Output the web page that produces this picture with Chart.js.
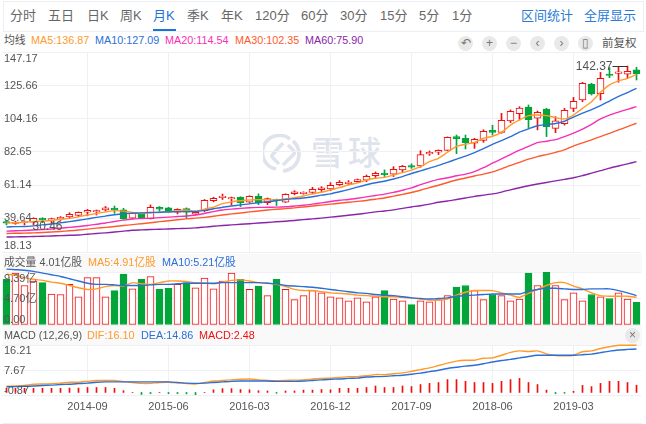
<!DOCTYPE html>
<html>
<head>
<meta charset="utf-8">
<script src="https://cdn.jsdelivr.net/npm/chart.js@4/dist/chart.umd.min.js"></script>
<style>
  html, body { margin: 0; padding: 0; background: #fff; }
  body { width: 646px; height: 424px; position: relative; overflow: hidden; font-family: "Liberation Sans", "Noto Sans CJK SC", sans-serif; }
  canvas, .t, .box, svg { position: absolute; }
  .t { white-space: nowrap; line-height: 16px; height: 16px; }
  .tab { font-size: 13px; top: 8px; color: #666; }
  .btn { width: 15px; height: 15px; border-radius: 8px; background: #e9e9e9; top: 36px; color: #777; font-size: 12px; line-height: 15px; text-align: center; }
</style>
</head>
<body>
<div class="box" style="left:3px;top:1px;width:639px;height:29px;border:1px solid #eceef3;box-sizing:content-box"></div>
<div class="box" style="left:153px;top:29px;width:23px;height:2px;background:#1a73d8"></div>
<div class="box" style="left:3px;top:254px;width:639px;height:18px;background:#f9f9fa"></div>
<div class="box" style="left:3px;top:326px;width:639px;height:19px;background:#f9f9fa"></div>
<div class="box" style="left:3px;top:423px;width:639px;height:1px;background:#eceef3"></div>

<svg style="left:263px;top:134px" width="40" height="40" viewBox="0 0 40 40" fill="none" stroke="#dfe4ec" stroke-width="3.6">
  <path d="M27 5 A17 17 0 1 0 13 35"/>
  <path d="M13 35 L13 35 M30 7 A17 17 0 0 1 20 37"/>
  <path d="M20 9 L10 20 Q8 22 10 24 L16 30"/>
  <path d="M20 31 L31 20 Q32 18 30 16 L25 11"/>
</svg>
<div class="t" style="left:311px;top:146px;font-size:33px;letter-spacing:4px;font-weight:500;color:#dfe4ec">雪球</div>

<canvas id="main-chart" width="646" height="202" style="left:0;top:51px"></canvas>
<canvas id="volume-chart" width="646" height="60" style="left:0;top:266px"></canvas>
<canvas id="macd-chart" width="646" height="80" style="left:0;top:340px"></canvas>

<div id="labels"></div>

<script>
const months = [
  '2013-12','2014-01','2014-02','2014-03','2014-04','2014-05','2014-06','2014-07','2014-08','2014-09','2014-10','2014-11',
  '2014-12','2015-01','2015-02','2015-03','2015-04','2015-05','2015-06','2015-07','2015-08','2015-09','2015-10','2015-11',
  '2015-12','2016-01','2016-02','2016-03','2016-04','2016-05','2016-06','2016-07','2016-08','2016-09','2016-10','2016-11',
  '2016-12','2017-01','2017-02','2017-03','2017-04','2017-05','2017-06','2017-07','2017-08','2017-09','2017-10','2017-11',
  '2017-12','2018-01','2018-02','2018-03','2018-04','2018-05','2018-06','2018-07','2018-08','2018-09','2018-10','2018-11',
  '2018-12','2019-01','2019-02','2019-03','2019-04','2019-05','2019-06','2019-07','2019-08','2019-09','2019-10'
];
const xTickLabels = ['2014-09','2015-06','2016-03','2016-12','2017-09','2018-06','2019-03'];

const opens = [37.7,36.5,37.1,37.3,39.9,38.6,39.5,40.7,41.8,43.75,44,45.3,46.3,45.3,39.9,43.1,39.7,47,46.6,43.75,46.1,42.5,44.8,51.3,53.2,
  52.4,53.4,50.2,54.1,50,52.1,50.2,55.8,55.8,56.5,58.4,58.8,61.6,62.2,63.5,64.4,67.4,68.9,68.3,71.1,73.9,73.6,81.4,
  82.5,83.7,92.6,91.5,88.3,90.2,96.6,95.3,102.7,107.4,111.7,104.4,110.4,97.9,100.9,110.8,116.2,126.5,120.3,133,133.4,132.8,135.6];
const closes = [36.7,37.5,37.7,39.9,38.8,39.7,40.5,42.5,43.75,45,44.8,46.6,45.3,39.5,43.1,40.3,47,45.7,43.75,45.7,43.75,43.75,51.5,52.8,54.1,
  53.2,50,54.1,49.6,52.6,51.3,55.4,56.9,56.7,58.6,59.5,61.2,63.1,63.3,64.8,67,68.9,68.1,71.5,73.4,72.8,81,82.5,
  83.7,92.1,91.3,88.7,90.8,96,95.3,103.1,108.9,111,103.5,108.3,99,102.7,109.5,115.4,127,120.1,130.2,132.1,134.3,134.7,133.2];
const highs = [38.4,38,38.2,40.2,40.3,40,41,43.5,44,45.6,45.2,47.5,47.8,46.3,43.5,43.5,48.5,47.5,47,46,46.6,44,52,53.5,55.5,
  53.6,53.8,54.4,55.6,53,52.3,55.7,57.7,57,59.9,60.3,62.9,64.2,64.2,65.2,67.8,69.8,71.1,73.2,74,75,83.5,83.3,
  84,92.4,93.6,93.6,91.5,97,99.9,107.6,109.8,111.9,113,109.1,110.8,105.5,110.8,117.9,127.6,127,134,137.1,137.5,138.1,137.3];
const lows = [35.6,36,35.6,35.6,37,36.5,38.5,39.8,41,41.5,42,44.5,43.1,39.2,39.5,40,39.4,44.5,43.5,42.7,39.9,42,44,50.5,52,
  48.5,47.4,50,48.7,48.7,48.1,50,55,55.4,55.6,57.1,57.7,61,61.4,63.1,63.5,65.7,66.8,66.8,69.8,72.1,72.8,80.5,
  81,83.5,81.6,84.6,85,88.9,93.6,94.7,101.6,103.3,97.9,96.9,92.6,95.1,100,108.7,115.1,119.4,116.2,130.6,127.6,130.6,129.1];

const ma5 = [36.8,37,37.3,37.8,38.1,38.5,39.2,39.8,40.8,42,43,44,44.8,44.5,43.6,42.9,43.4,43.6,44,44.8,45.2,44.4,45.8,47,49.3,
  50.5,51.2,51.7,51.9,51.8,51.7,52.3,53.2,54.3,55.6,56.7,58.2,59.7,61.4,62.7,64.6,65.7,66.3,67.8,69.3,71,73.2,76.4,
  78.6,82.5,86.3,87.6,88.9,91.5,92.8,95.3,100,103.3,106.1,106.5,106.1,104.8,104,106.5,110.8,115.1,121.2,125.9,128.5,130.2,132.8];
const ma10 = [34.3,34.5,34.6,35,35.6,36.2,36.9,37.7,38.6,39.5,40.5,41.3,42.2,42.8,43.1,43.4,43.6,43.8,44,44.1,44.2,44.3,45,46,47,
  47.8,48.5,49.2,50,50.6,51.2,52,52.5,53,53.8,54.8,55.6,57,58.4,60,61.5,62.8,63.8,65.2,66.8,68.8,70.5,72.2,
  74,76,78,80,82.3,84.8,87.6,90,92.6,95.5,97.6,99.6,100.3,101,102.5,105.2,107.7,110,112.5,115.5,118.5,121,123.7];
const ma20 = [31.6,31.8,32,32.3,32.6,33,33.5,34,34.6,35.2,36,36.8,37.8,38.7,39.4,39.7,40,40.3,40.6,41,41.4,42,43,44.2,45.2,
  45.8,46.3,46.7,46.9,47,47.1,47.3,47.8,48.3,49,49.8,50.7,51.5,52,52.8,53.7,54.6,55.5,56.6,58,59.5,61.6,63.4,
  65,66,67.3,68.4,70,72.5,75.4,78.2,81,83.8,86.3,88.7,89.6,90.6,92.6,94.8,97.4,100.5,104,106.5,108.4,110.2,111.9];
const ma30 = [30.1,30.2,30.3,30.5,30.7,31,31.4,31.8,32.3,32.9,33.5,34,34.6,35.2,35.8,36.4,37,37.7,38.3,38.9,39.5,40,40.5,41.2,42,
  42.7,43.3,44,44.6,45.2,45.7,46.1,46.6,47.2,47.8,48.4,49,49.6,50.2,50.8,51.4,52.2,53,54.2,55.3,56.5,58,59.7,
  61.2,63,64.6,65.9,67.2,68.4,69.8,71.8,74,76,78,79.7,81,82.4,84,86.5,88.5,90.5,92.6,94.7,96.9,99,101.2];
const ma60 = [27.8,27.9,28,28.1,28.3,28.5,28.7,28.9,29.1,29.6,30.1,30.5,31,31.6,32.2,32.4,32.6,32.8,33,33.2,33.4,33.7,34.2,34.7,35.2,
  35.6,36,36.4,36.8,37.2,37.6,38,38.5,39,39.5,40,40.6,41.2,41.8,42.5,43.2,44,44.6,45.3,46.3,47.2,48,49,
  50.2,51,52,53,54,54.8,55.6,56.8,58.2,59.6,60.9,62,63,64,65,66,67.4,69,70.6,72.2,73.6,75,76.4];

const volumes = [8.1,9.2,7,7.8,7.5,5.5,5.4,7.2,5,8.4,8.4,5,6.1,9,6.4,8.1,8.6,6.3,6.5,7.2,7.5,6.6,8.3,6.4,7.8,
  9.2,8.1,6.3,6.9,5.2,8.1,6.3,4.5,5.2,6.1,5.7,5,4.8,4.3,4.8,4.1,5,6.1,4.6,4.3,3.6,4.3,4.1,
  4.5,5.2,6.7,7,6.1,4.5,5.4,5.2,4.3,4.6,9.2,7,9.39,7,4.5,5.7,4.3,5.4,5,4.7,5.7,4.6,4.01];
const volMa5 = [9,8.8,8.4,8.1,7.9,7.6,7.4,7,6.6,6.3,6.4,6.8,7,6.9,7.5,7.3,7.2,7.5,7.8,7.8,7.7,7.5,7.4,7.3,7.6,
  7.9,8,7.8,7.5,7.4,7.2,6.8,6.3,6.1,6.1,5.9,5.7,5.6,5.5,5.3,5.2,5.1,5,5,4.9,4.8,4.6,4.4,
  4.4,4.6,5.3,5.8,6.1,6.1,6.1,5.7,5.3,4.9,5.6,6.3,7,7.5,7.5,6.9,6.4,5.7,5.2,5.1,5.1,5.1,4.91];
const volMa10 = [9.9,9.8,9.7,9.5,9.2,8.9,8.6,8.2,7.8,7.4,7.2,7.2,7.1,7,7,7,7.1,7.2,7.2,7.3,7.4,7.4,7.4,7.4,7.5,
  7.5,7.5,7.5,7.5,7.4,7.3,7,6.9,6.8,6.7,6.5,6.3,6.1,5.9,5.7,5.6,5.4,5.3,5.2,5,4.8,4.7,4.6,
  4.7,4.8,5.1,5.2,5.3,5.4,5.5,5.5,5.5,5.5,6,6.3,6.5,6.5,6.4,6.3,6.3,6.4,6.4,6.4,6.1,5.7,5.21];

const dif = [2.1,2.2,2.4,2.8,2.9,3,3.2,3.5,3.5,3.8,4.1,4.1,4.1,3.7,3.4,3.1,3.1,3.4,3.5,3.3,3,2.9,3.4,3.9,4.1,
  4.3,4.5,4.6,4.3,4.1,4,4.1,4.2,4.3,4.6,4.8,4.9,5.1,5.4,5.4,5.7,6.1,6.1,6.4,6.7,7.2,7.8,8.4,
  9.2,10,10.7,11,11,11.7,11.8,12.7,13.7,14.2,14,14.2,13.2,12.6,12.5,12.7,13.9,14.2,15,15.6,16.1,16.1,16.1];
const dea = [1.9,2,2.1,2.2,2.4,2.5,2.7,2.8,3,3.2,3.5,3.6,3.6,3.6,3.6,3.6,3.6,3.6,3.6,3.4,3.2,3.1,3.2,3.4,3.6,
  3.8,3.9,3.9,3.9,3.9,3.8,3.8,3.8,3.9,4.1,4.3,4.5,4.6,4.8,4.9,5.3,5.4,5.5,5.7,5.9,6.2,6.6,7.1,
  7.6,8.2,8.6,9,9.3,9.8,10.4,10.9,11.3,11.8,12.3,12.7,12.7,12.7,12.7,12.7,12.9,13.1,13.6,14.1,14.5,14.7,14.86];
const macdBars = [1.5,1.4,1.4,1.4,1.4,1.4,1.4,1.5,1.5,1.7,1.7,1.7,1.4,0.6,0.05,-0.7,-0.4,0.05,-0.4,-0.4,-0.5,-0.85,0.05,0.9,1.3,
  1.3,1,0.9,0.6,0.5,-0.3,0.5,0.5,0.8,0.8,1,0.9,1.4,1.4,1.4,1.7,2.2,1.7,1.7,2.2,2,2.7,3.1,
  3.4,4.4,4.4,3.8,3.4,3.4,3.1,3.8,4.4,4.8,3.4,2.7,0.8,-0.4,-0.3,0.4,2.4,2,3.1,3.8,3.8,3.4,2.48];

const mainTicks = [147.17,125.66,104.16,82.65,61.14,39.64,18.13];
const volumeTicks = [9.39,4.70,0];
const volumeTickText = ['9.39亿','4.70亿','0.00'];
const macdTicks = [16.21,7.67,-0.87];

const UP = '#f00f0f';
const DOWN = '#03a43a';
const GRID = '#eff0f4';
const TEXT = '#555';
const C_MA5 = '#ff9a2b', C_MA10 = '#2b6fd6', C_MA20 = '#f72fb4', C_MA30 = '#ff5a2e', C_MA60 = '#8a25a8';

const isUp = closes.map((c, i) => c >= opens[i]);

// y tick text sits inside the plot, nudged below the top line and above the bottom one
function yLabels(ticks, texts, shifts) {
  return {
    id: 'yLabels',
    afterDatasetsDraw(chart) {
      const c = chart.ctx, y = chart.scales.y;
      c.save();
      c.font = '11px "Liberation Sans", "Noto Sans CJK SC"';
      c.fillStyle = TEXT;
      c.textBaseline = 'middle';
      ticks.forEach((v, i) => c.fillText(texts[i], 4, y.getPixelForValue(v) + shifts[i]));
      c.restore();
    }
  };
}

// highest / lowest markers on the candle panel
const extremes = {
  id: 'extremes',
  afterDatasetsDraw(chart) {
    const c = chart.ctx, x = chart.scales.x, y = chart.scales.y;
    const hx = x.getPixelForValue(69), hy = Math.round(y.getPixelForValue(highs[69])) + 0.5;
    c.save();
    c.font = '12px "Liberation Sans"';
    c.fillStyle = TEXT;
    c.textBaseline = 'middle';
    c.textAlign = 'right';
    c.fillText('142.37', hx - 15, hy);
    c.strokeStyle = '#333';
    c.lineWidth = 1;
    c.beginPath();
    c.moveTo(hx - 15, hy);
    c.lineTo(hx, hy);
    c.stroke();
    c.textAlign = 'left';
    c.fillText('30.46', x.getPixelForValue(3) - 1, y.getPixelForValue(lows[3]) + 2);
    c.restore();
  }
};

function panelOptions(min, max, ticks, top, bottomHeight, showDates) {
  return {
    responsive: false,
    animation: false,
    events: [],
    layout: { padding: { left: 2, right: 5, top: top, bottom: showDates ? 0 : 1 } },
    plugins: { legend: { display: false }, tooltip: { enabled: false } },
    scales: {
      x: {
        offset: true,
        afterFit(scale) { scale.height = bottomHeight; },
        border: { display: false },
        grid: {
          offset: false,
          drawTicks: false,
          color: (ctx) => (ctx.tick && xTickLabels.includes(months[ctx.tick.value]) ? GRID : 'rgba(0,0,0,0)')
        },
        ticks: {
          display: showDates,
          autoSkip: false,
          maxRotation: 0,
          padding: 5,
          color: TEXT,
          font: { family: '"Liberation Sans"', size: 11 },
          callback(value) {
            const label = this.getLabelForValue(value);
            return xTickLabels.includes(label) ? label : '';
          }
        }
      },
      y: {
        min: min,
        max: max,
        afterBuildTicks(scale) { scale.ticks = ticks.map((v) => ({ value: v })); },
        afterFit(scale) { scale.width = 0; },
        border: { display: false },
        grid: { drawTicks: false, color: GRID },
        ticks: { display: false }
      }
    }
  };
}

function maLine(data, color) {
  return { type: 'line', data: data, borderColor: color, borderWidth: 1.4, pointRadius: 0, tension: 0.2, clip: false, order: 0 };
}

// Candles: wicks are thin floating bars, bodies sit on top of them
new Chart(document.getElementById('main-chart').getContext('2d'), {
  type: 'bar',
  data: {
    labels: months,
    datasets: [
      maLine(ma60, C_MA60),
      maLine(ma30, C_MA30),
      maLine(ma20, C_MA20),
      maLine(ma10, C_MA10),
      maLine(ma5, C_MA5),
      {
        data: closes.map((c, i) => [opens[i], c]),
        backgroundColor: isUp.map((u) => (u ? '#fff' : DOWN)),
        borderColor: isUp.map((u) => (u ? UP : DOWN)),
        borderWidth: 1,
        borderSkipped: false,
        barThickness: 7,
        grouped: false,
        order: 1
      },
      {
        data: highs.map((h, i) => [lows[i], h]),
        backgroundColor: isUp.map((u) => (u ? UP : DOWN)),
        barThickness: 1,
        grouped: false,
        order: 2
      }
    ]
  },
  options: panelOptions(18.13, 147.17, mainTicks, 1, 0, false),
  plugins: [yLabels(mainTicks, mainTicks.map((v) => v.toFixed(2)), [7, 1, 0, 0, 0, -1, -6]), extremes]
});

new Chart(document.getElementById('volume-chart').getContext('2d'), {
  type: 'bar',
  data: {
    labels: months,
    datasets: [
      maLine(volMa10, C_MA10),
      maLine(volMa5, C_MA5),
      {
        data: volumes,
        backgroundColor: isUp.map((u) => (u ? '#fff' : DOWN)),
        borderColor: isUp.map((u) => (u ? UP : DOWN)),
        borderWidth: 1,
        borderSkipped: false,
        barThickness: 7,
        grouped: false,
        order: 1
      }
    ]
  },
  options: panelOptions(0, 9.39, volumeTicks, 6, 0, false),
  plugins: [yLabels(volumeTicks, volumeTickText, [7, 0, -5])]
});

new Chart(document.getElementById('macd-chart').getContext('2d'), {
  type: 'bar',
  data: {
    labels: months,
    datasets: [
      maLine(dea, C_MA10),
      maLine(dif, C_MA5),
      {
        data: macdBars,
        backgroundColor: macdBars.map((v) => (v >= 0 ? UP : DOWN)),
        barThickness: 1,
        grouped: false,
        order: 1
      }
    ]
  },
  options: panelOptions(-0.87, 16.21, macdTicks, 5, 25, true),
  plugins: [yLabels(macdTicks, macdTicks.map((v) => v.toFixed(2)), [6, 1, -4])]
});

// Page text around the charts
const tabs = [['分时',10],['五日',48],['日K',87],['周K',120],['月K',153],['季K',187],['年K',221],['120分',255],['60分',301],['30分',340],['15分',380],['5分',419],['1分',452]];
const pageText = [
  ['区间统计',521,8,13,'#2b7bd6'],['全屏显示',584,8,13,'#2b7bd6'],
  ['均线',4,32,10.8,TEXT],['MA5:136.87',31,32,10.8,C_MA5],['MA10:127.09',95,32,10.8,C_MA10],['MA20:114.54',165,32,10.8,C_MA20],['MA30:102.35',235,32,10.8,C_MA30],['MA60:75.90',305,32,10.8,C_MA60],
  ['前复权',602,35,11.5,TEXT],
  ['成交量 4.01亿股',4,254,10.8,TEXT],['MA5:4.91亿股',88,254,10.8,C_MA5],['MA10:5.21亿股',162,254,10.8,C_MA10],
  ['MACD (12,26,9)',4,327,10.8,TEXT],['DIF:16.10',87,327,10.8,C_MA5],['DEA:14.86',141,327,10.8,C_MA10],['MACD:2.48',199,327,10.8,UP]
];
const buttons = [['↶',458],['+',482],['−',506],['‹',530],['›',554],['▯',578]];
const holder = document.getElementById('labels');
tabs.forEach(([text, left]) => {
  const el = document.createElement('div');
  el.className = 't tab';
  el.textContent = text;
  el.style.left = left + 'px';
  if (text === '月K') el.style.color = '#1a73d8';
  holder.appendChild(el);
});
pageText.forEach(([text, left, top, size, color]) => {
  const el = document.createElement('div');
  el.className = 't';
  el.textContent = text;
  el.style.cssText = 'left:' + left + 'px;top:' + top + 'px;font-size:' + size + 'px;color:' + color;
  holder.appendChild(el);
});
buttons.forEach(([text, left]) => {
  const el = document.createElement('div');
  el.className = 'box btn';
  el.textContent = text;
  el.style.left = left + 'px';
  holder.appendChild(el);
});
const closeBtn = document.createElement('div');
closeBtn.className = 'box btn';
closeBtn.textContent = '×';
closeBtn.style.left = '625px';
closeBtn.style.top = '328px';
holder.appendChild(closeBtn);
</script>
</body>
</html>
